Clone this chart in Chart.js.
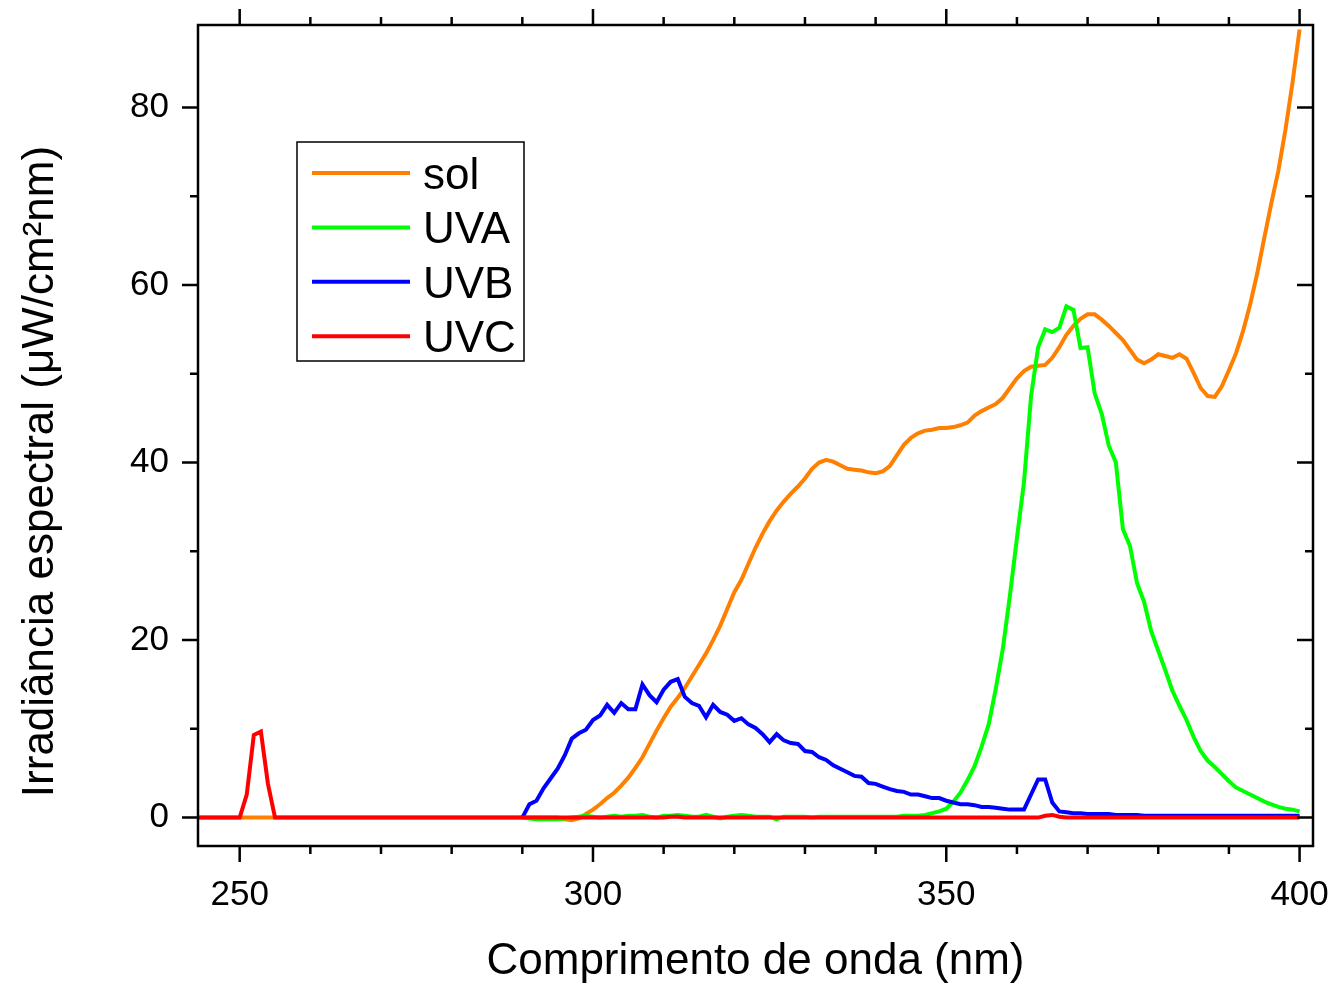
<!DOCTYPE html>
<html>
<head>
<meta charset="utf-8">
<script src="https://cdn.jsdelivr.net/npm/chart.js@4.4.1/dist/chart.umd.min.js"></script>
<style>
    html, body { margin: 0; padding: 0; background: #fff; }
    #wrap { width: 1332px; height: 984px; }
</style>
</head>
<body>
<div id="wrap"><canvas id="myChart"></canvas></div>
<script>
// wavelength (nm), one reading per nm
const wavelength = [
    244, 245, 246, 247, 248, 249,
    250, 251, 252, 253, 254, 255, 256, 257, 258, 259,
    260, 261, 262, 263, 264, 265, 266, 267, 268, 269,
    270, 271, 272, 273, 274, 275, 276, 277, 278, 279,
    280, 281, 282, 283, 284, 285, 286, 287, 288, 289,
    290, 291, 292, 293, 294, 295, 296, 297, 298, 299,
    300, 301, 302, 303, 304, 305, 306, 307, 308, 309,
    310, 311, 312, 313, 314, 315, 316, 317, 318, 319,
    320, 321, 322, 323, 324, 325, 326, 327, 328, 329,
    330, 331, 332, 333, 334, 335, 336, 337, 338, 339,
    340, 341, 342, 343, 344, 345, 346, 347, 348, 349,
    350, 351, 352, 353, 354, 355, 356, 357, 358, 359,
    360, 361, 362, 363, 364, 365, 366, 367, 368, 369,
    370, 371, 372, 373, 374, 375, 376, 377, 378, 379,
    380, 381, 382, 383, 384, 385, 386, 387, 388, 389,
    390, 391, 392, 393, 394, 395, 396, 397, 398, 399,
    400
];

const sol = [
    0, 0, 0, 0, 0, 0,
    0, 0, 0, 0, 0, 0, 0, 0, 0, 0,
    0, 0, 0, 0, 0, 0, 0, 0, 0, 0,
    0, 0, 0, 0, 0, 0, 0, 0, 0, 0,
    0, 0, 0, 0, 0, 0, 0, 0, 0, 0,
    0, 0, 0, 0, 0, 0, -0.2, -0.3, -0.1, 0.4,
    0.9, 1.5, 2.2, 2.8, 3.6, 4.5, 5.6, 6.8, 8.3, 9.8,
    11.2, 12.5, 13.5, 14.6, 15.9, 17.2, 18.5, 20.0, 21.6, 23.5,
    25.4, 26.8, 28.6, 30.4, 32.0, 33.4, 34.6, 35.6, 36.5, 37.3,
    38.2, 39.3, 40.0, 40.3, 40.1, 39.7, 39.3, 39.2, 39.1, 38.9,
    38.8, 39.0, 39.6, 40.8, 42.0, 42.8, 43.3, 43.6, 43.7, 43.9,
    43.9, 44.0, 44.2, 44.5, 45.3, 45.8, 46.2, 46.6, 47.3, 48.4,
    49.5, 50.3, 50.8, 50.9, 51.0, 51.8, 53.0, 54.4, 55.4, 56.2,
    56.7, 56.7, 56.1, 55.4, 54.6, 53.8, 52.7, 51.6, 51.2, 51.6,
    52.2, 52.0, 51.8, 52.2, 51.7, 50.1, 48.4, 47.5, 47.4, 48.6,
    50.4, 52.3, 54.8, 57.8, 61.3, 65.3, 69.2, 72.9, 77.5, 82.8,
    88.8
];

// UVA and UVB readings start at 290 nm
const uva = [
    null, null, null, null, null, null,
    null, null, null, null, null, null, null, null, null, null,
    null, null, null, null, null, null, null, null, null, null,
    null, null, null, null, null, null, null, null, null, null,
    null, null, null, null, null, null, null, null, null, null,
    0, -0.1, -0.2, -0.2, -0.2, -0.2, -0.1, 0, 0.1, 0.2,
    0.1, 0, 0.1, 0.2, 0.1, 0.2, 0.2, 0.3, 0.1, 0,
    0.2, 0.2, 0.3, 0.2, 0.1, 0.1, 0.3, 0.1, -0.1, 0.1,
    0.2, 0.3, 0.2, 0.1, 0.1, 0.1, -0.2, 0.1, 0.1, 0.1,
    0.1, 0, 0.1, 0.1, 0.1, 0.1, 0.1, 0.1, 0.1, 0.1,
    0.1, 0.1, 0.1, 0.1, 0.2, 0.2, 0.2, 0.3, 0.5, 0.7,
    1.0, 1.8, 2.8, 4.2, 5.8, 8.0, 10.5, 14.5, 19.0, 25.0,
    31.5, 37.8, 47.5, 53.0, 55.0, 54.7, 55.2, 57.6, 57.2, 52.9,
    53.0, 47.8, 45.5, 41.9, 40.0, 32.5, 30.6, 26.4, 24.3, 21.0,
    18.8, 16.6, 14.3, 12.6, 11.0, 9.1, 7.5, 6.4, 5.7, 4.9,
    4.1, 3.4, 3.0, 2.6, 2.2, 1.8, 1.5, 1.2, 1.0, 0.9,
    0.7
];

const uvb = [
    null, null, null, null, null, null,
    null, null, null, null, null, null, null, null, null, null,
    null, null, null, null, null, null, null, null, null, null,
    null, null, null, null, null, null, null, null, null, null,
    null, null, null, null, null, null, null, null, null, null,
    0, 1.5, 1.9, 3.3, 4.4, 5.5, 7.0, 8.9, 9.5, 9.9,
    11.0, 11.5, 12.7, 11.8, 12.9, 12.2, 12.2, 15.0, 13.8, 13.0,
    14.4, 15.3, 15.6, 13.6, 12.9, 12.6, 11.3, 12.7, 11.9, 11.6,
    10.9, 11.2, 10.5, 10.1, 9.4, 8.5, 9.4, 8.7, 8.4, 8.3,
    7.5, 7.4, 6.8, 6.5, 5.9, 5.5, 5.1, 4.7, 4.6, 3.9,
    3.8, 3.5, 3.2, 3.0, 2.9, 2.6, 2.6, 2.4, 2.2, 2.2,
    1.9, 1.7, 1.5, 1.5, 1.4, 1.2, 1.2, 1.1, 1.0, 0.9,
    0.9, 0.9, 2.6, 4.3, 4.3, 1.7, 0.7, 0.6, 0.5, 0.5,
    0.4, 0.4, 0.4, 0.4, 0.3, 0.3, 0.3, 0.3, 0.2, 0.2,
    0.2, 0.2, 0.2, 0.2, 0.2, 0.2, 0.2, 0.2, 0.2, 0.2,
    0.2, 0.2, 0.2, 0.2, 0.2, 0.2, 0.2, 0.2, 0.2, 0.2,
    0.2
];

const uvc = [
    0, 0, 0, 0, 0, 0,
    0, 2.6, 9.3, 9.7, 3.8, 0, 0, 0, 0, 0,
    0, 0, 0, 0, 0, 0, 0, 0, 0, 0,
    0, 0, 0, 0, 0, 0, 0, 0, 0, 0,
    0, 0, 0, 0, 0, 0, 0, 0, 0, 0,
    0, 0, 0, 0, 0, 0, 0, 0, 0, 0,
    0, 0, 0, 0, 0, 0, 0, 0, 0, 0,
    0, 0.1, 0.1, 0, 0, 0, 0, 0, 0, 0,
    0, 0, 0, 0, 0, 0, 0, 0, 0, 0,
    0, 0, 0, 0, 0, 0, 0, 0, 0, 0,
    0, 0, 0, 0, 0, 0, 0, 0, 0, 0,
    0, 0, 0, 0, 0, 0, 0, 0, 0, 0,
    0, 0, 0, 0, 0.2, 0.3, 0.1, 0, 0, 0,
    0, 0, 0, 0, 0, 0, 0, 0, 0, 0,
    0, 0, 0, 0, 0, 0, 0, 0, 0, 0,
    0, 0, 0, 0, 0, 0, 0, 0, 0, 0,
    0
];

const seriesNames = ['sol', 'UVA', 'UVB', 'UVC'];
const seriesColors = ['#FF8000', '#00FF00', '#0000FF', '#FF0000'];

const xMajorTicks = [250, 300, 350, 400];
const xMinorTicks = [260, 270, 280, 290, 310, 320, 330, 340, 360, 370, 380, 390];
const yMajorTicks = [0, 20, 40, 60, 80];
const yMinorTicks = [10, 30, 50, 70];

const xTitle = 'Comprimento de onda (nm)';
const yTitle = 'Irradiância espectral (μW/cm²nm)';

const FONT = '"Liberation Sans", Arial, sans-serif';

function toPoints(values) {
    return wavelength.map((w, i) => ({x: w, y: values[i]}));
}

const allSeries = [sol, uva, uvb, uvc];

// frame, ticks on all four sides, legend box and axis titles
const decorations = {
    id: 'decorations',
    afterDraw(chart) {
        const ctx = chart.ctx;
        const a = chart.chartArea;
        const xs = chart.scales.x;
        const ys = chart.scales.y;

        ctx.save();
        ctx.strokeStyle = '#000';
        ctx.lineWidth = 2.5;
        ctx.lineCap = 'butt';
        ctx.strokeRect(a.left, a.top, a.right - a.left, a.bottom - a.top);

        ctx.beginPath();
        const xTick = (v, len) => {
            const px = xs.getPixelForValue(v);
            ctx.moveTo(px, a.bottom); ctx.lineTo(px, a.bottom + len);
            ctx.moveTo(px, a.top); ctx.lineTo(px, a.top - len);
        };
        const yTick = (v, len) => {
            const py = ys.getPixelForValue(v);
            ctx.moveTo(a.left, py); ctx.lineTo(a.left - len, py);
            ctx.moveTo(a.right, py); ctx.lineTo(a.right - len, py);
        };
        xMajorTicks.forEach(v => xTick(v, 16));
        xMinorTicks.forEach(v => xTick(v, 8));
        yMajorTicks.forEach(v => yTick(v, 16));
        yMinorTicks.forEach(v => yTick(v, 8));
        ctx.stroke();

        // legend
        const bx = a.left + 99, by = a.top + 117, bw = 227, bh = 219;
        ctx.fillStyle = '#fff';
        ctx.fillRect(bx, by, bw, bh);
        ctx.lineWidth = 1.5;
        ctx.strokeRect(bx, by, bw, bh);
        ctx.font = '44px ' + FONT;
        ctx.textAlign = 'left';
        ctx.textBaseline = 'alphabetic';
        seriesNames.forEach((name, i) => {
            const ly = by + 31 + i * 54.4;
            ctx.strokeStyle = seriesColors[i];
            ctx.lineWidth = 4;
            ctx.beginPath();
            ctx.moveTo(bx + 15, ly);
            ctx.lineTo(bx + 113, ly);
            ctx.stroke();
            ctx.fillStyle = '#000';
            ctx.fillText(name, bx + 126, ly + 16);
        });

        // axis titles
        ctx.fillStyle = '#000';
        ctx.textAlign = 'center';
        ctx.fillText(xTitle, (a.left + a.right) / 2, 974);
        ctx.translate(53, 471.5);
        ctx.rotate(-Math.PI / 2);
        ctx.fillText(yTitle, 0, 0);
        ctx.restore();
    }
};

new Chart(document.getElementById('myChart'), {
    type: 'line',
    data: {
        datasets: seriesNames.map((name, i) => ({
            label: name,
            data: toPoints(allSeries[i]),
            borderColor: seriesColors[i],
            backgroundColor: seriesColors[i],
            borderWidth: 4,
            pointRadius: 0,
            tension: 0,
            fill: false,
            spanGaps: false,
            order: seriesNames.length - i
        }))
    },
    options: {
        responsive: true,
        maintainAspectRatio: false,
        animation: false,
        layout: {padding: {top: 25, right: 19, left: 0, bottom: 0}},
        plugins: {
            legend: {display: false},
            tooltip: {enabled: false}
        },
        scales: {
            x: {
                type: 'linear',
                min: 244.1,
                max: 401.9,
                afterFit: s => {
                    s.height = 138;
                    s.paddingLeft = 0;
                    s.paddingRight = 0;
                },
                afterBuildTicks: s => { s.ticks = xMajorTicks.map(v => ({value: v})); },
                grid: {display: false, drawTicks: false},
                border: {display: false},
                ticks: {
                    autoSkip: false,
                    maxRotation: 0,
                    padding: 28,
                    color: '#000',
                    font: {family: FONT, size: 35}
                }
            },
            y: {
                type: 'linear',
                min: -3.2,
                max: 89.3,
                afterFit: s => {
                    s.width = 198;
                    s.paddingTop = 0;
                    s.paddingBottom = 0;
                },
                afterBuildTicks: s => { s.ticks = yMajorTicks.map(v => ({value: v})); },
                grid: {display: false, drawTicks: false},
                border: {display: false},
                ticks: {
                    autoSkip: false,
                    padding: 29,
                    color: '#000',
                    font: {family: FONT, size: 35}
                }
            }
        }
    },
    plugins: [decorations]
});
</script>
</body>
</html>
